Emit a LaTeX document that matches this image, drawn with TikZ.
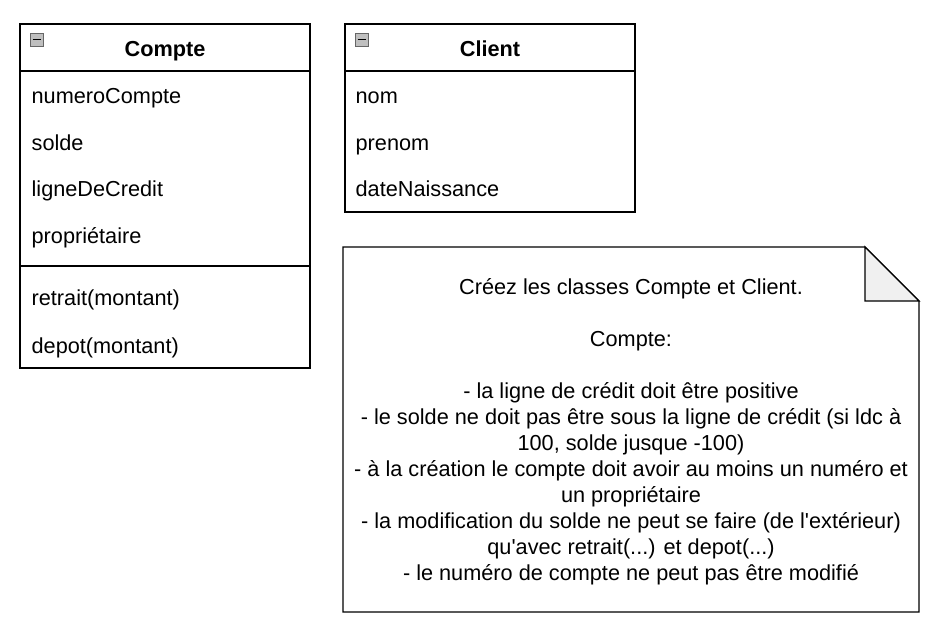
\documentclass[tikz,border=0pt]{standalone}
\usepackage{fontspec}
\setmainfont{Liberation Sans}
\usetikzlibrary{positioning}

\begin{document}
\begin{tikzpicture}[
    x = 1pt,
    y = -1pt,
    line width = 1.3pt,
    classbox/.style = {
      draw,
      fill = white},
    attr/.style = {
      anchor = base west,
      inner sep = 0pt,
      font = \fontsize{21.7}{26}\selectfont},
    title/.style = {
      anchor = base,
      inner sep = 0pt,
      font = \fontsize{21.7}{26}\selectfont\bfseries},
    minus/.style = {
      draw = gray!80!black,
      line width = 0.8pt,
      fill = gray!50}
      ]
  \useasboundingbox (0,0) rectangle (937,630);

  % Compte class
  \draw[classbox] (20,24) rectangle (310,368);
  \draw (20,71) -- (310,71);
  \draw (20,266) -- (310,266);
  \draw[minus] (30,33) rectangle (43,46);
  \draw[line width=1.8pt] (32.5,39.5) -- (40.5,39.5);
  \node[title] (compte) at (165,56) {Compte};
  \node[attr] (numero) at (31,103) {numeroCompte};
  \node[attr] (solde) at (31,150) {solde};
  \node[attr] (ligne) at (31,196) {ligneDeCredit};
  \node[attr] (proprio) at (31,243) {propriétaire};
  \node[attr] (retrait) at (31,305) {retrait(montant)};
  \node[attr] (depot) at (31,353) {depot(montant)};

  % Client class
  \draw[classbox] (345,24) rectangle (635,212);
  \draw (345,71) -- (635,71);
  \draw[minus] (355,33) rectangle (368,46);
  \draw[line width=1.8pt] (357.5,39.5) -- (365.5,39.5);
  \node[title] (client) at (490,56) {Client};
  \node[attr] (nom) at (355,103) {nom};
  \node[attr] (prenom) at (355,150) {prenom};
  \node[attr] (naissance) at (355,196) {dateNaissance};

  % Note with folded corner (base anchor = last line)
  \draw[classbox] (343,247) -- (865,247) -- (919,301) -- (919,612) -- (343,612) -- cycle;
  \draw[fill=gray!12] (865,247) -- (865,301) -- (919,301) -- cycle;
  \node[align=center, inner sep=0pt, anchor=base, font=\fontsize{21.7}{26}\selectfont] (note) at (631,580)
    {Créez les classes Compte et Client.\\[26pt]
     Compte:\\[26pt]
     - la ligne de crédit doit être positive\\
     - le solde ne doit pas être sous la ligne de crédit (si ldc à\\
     100, solde jusque -100)\\
     - à la création le compte doit avoir au moins un numéro et\\
     un propriétaire\\
     - la modification du solde ne peut se faire (de l\textquotesingle extérieur)\\
     qu\textquotesingle avec retrait(...) et depot(...)\\
     - le numéro de compte ne peut pas être modifié};

\end{tikzpicture}
\end{document}
